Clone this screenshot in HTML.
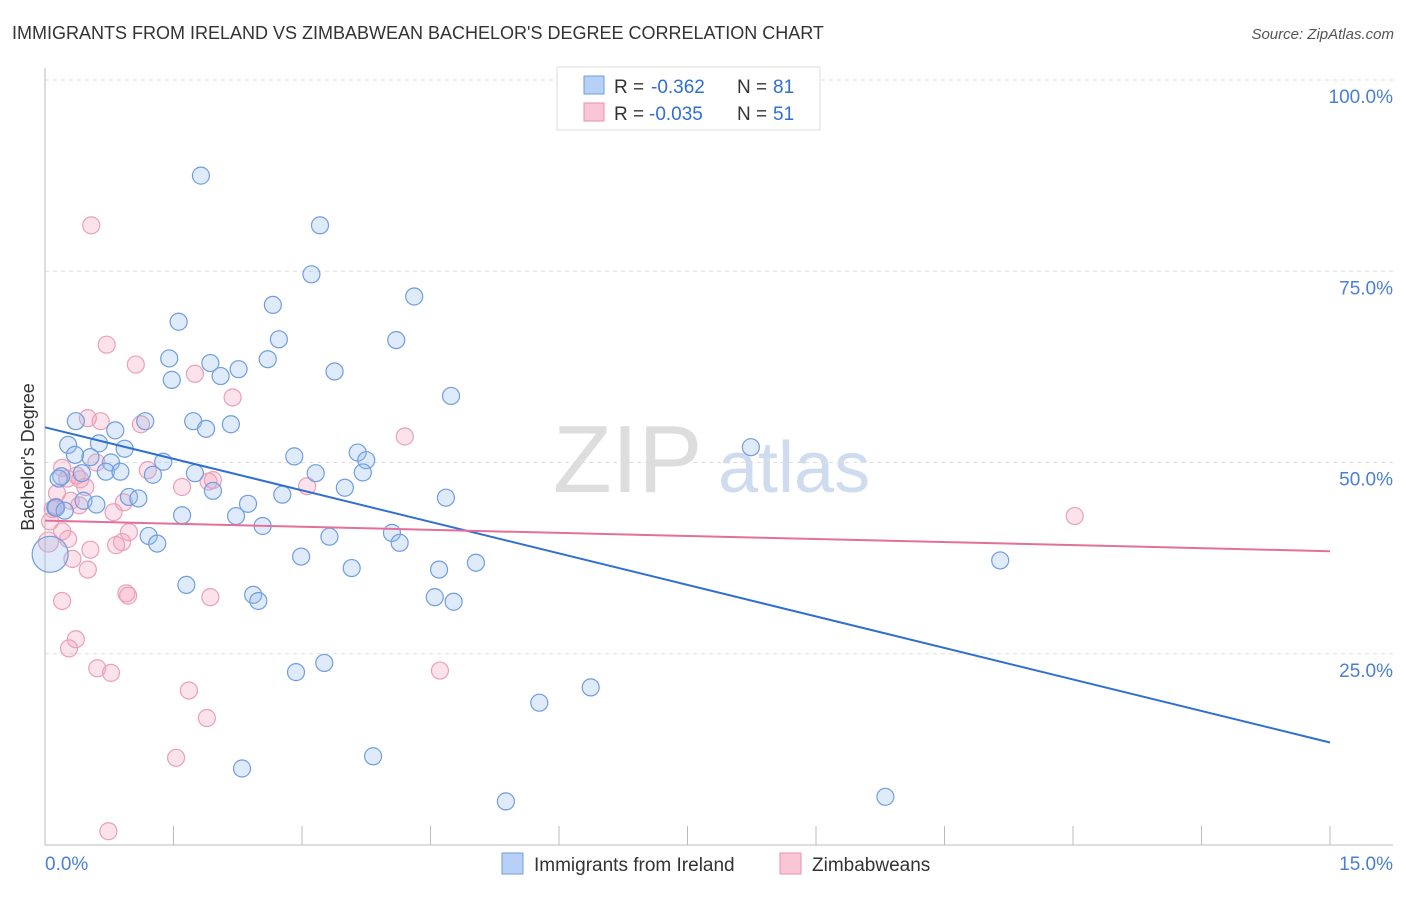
<!DOCTYPE html>
<html><head><meta charset="utf-8"><style>
body{margin:0;background:#fff;font-family:"Liberation Sans",sans-serif;}
svg text{font-family:"Liberation Sans",sans-serif;}
</style></head><body>
<svg width="1406" height="892" xmlns="http://www.w3.org/2000/svg">
<text x="12" y="39" font-size="18" fill="#333">IMMIGRANTS FROM IRELAND VS ZIMBABWEAN BACHELOR'S DEGREE CORRELATION CHART</text>
<text x="1394" y="39" font-size="15" fill="#555" text-anchor="end" font-style="italic">Source: ZipAtlas.com</text>
<g>
<text x="553" y="492" font-size="96" fill="#ddd" font-family="Liberation Serif">ZIP</text>
<text x="718" y="492" font-size="72" fill="#cfdcf0">atlas</text>
</g>
<g id="grid"></g>
<g id="axes"></g>
<g id="pts"></g>
<g id="lines"></g>
<text transform="translate(34,457) rotate(-90)" font-size="18" fill="#333" text-anchor="middle">Bachelor's Degree</text>
<g>
<rect x="557" y="67" width="263" height="63" fill="#fff" stroke="#ddd"/>
<rect x="584" y="76" width="20" height="18" fill="#b7d0f5" stroke="#6f9de0"/>
<rect x="584" y="103" width="20" height="18" fill="#f9c6d5" stroke="#e98fae"/>
<text x="614" y="93" font-size="19" fill="#333">R =</text>
<text x="651" y="93" font-size="19" fill="#2f6fd1">-0.362</text>
<text x="737" y="93" font-size="19" fill="#333">N =</text>
<text x="773" y="93" font-size="19" fill="#2f6fd1">81</text>
<text x="614" y="120" font-size="19" fill="#333">R =</text>
<text x="649" y="120" font-size="19" fill="#2f6fd1">-0.035</text>
<text x="737" y="120" font-size="19" fill="#333">N =</text>
<text x="773" y="120" font-size="19" fill="#2f6fd1">51</text>
</g>
<g>
<rect x="502" y="853" width="21" height="21" fill="#b7d0f5" stroke="#6f9de0"/>
<text x="534" y="871" font-size="19" fill="#333">Immigrants from Ireland</text>
<rect x="780" y="853" width="21" height="21" fill="#f9c6d5" stroke="#e98fae"/>
<text x="812" y="871" font-size="19" fill="#333">Zimbabweans</text>
</g>
</svg>
<script>
const yTicks=[25,50,75,100];
const yTickLabels=["25.0%","50.0%","75.0%","100.0%"];
const xTickLabels=["0.0%","15.0%"];
const irelandX=[1.82,3.21,3.11,4.31,2.66,1.56,2.73,4.10,1.45,1.93,2.60,3.38,1.48,2.05,2.26,4.74,0.36,1.17,1.73,2.17,1.88,0.82,0.27,0.63,0.93,8.24,3.65,2.91,0.53,0.77,1.38,3.75,0.43,0.71,0.88,1.26,1.75,3.16,3.71,0.19,3.50,1.96,2.77,4.68,0.98,1.09,0.12,2.37,0.13,1.60,2.23,2.54,1.21,1.31,3.32,4.05,4.14,2.99,5.03,3.58,4.60,11.15,1.65,2.43,2.49,4.55,4.77,2.93,3.26,6.37,5.77,3.83,2.30,5.38,9.81,0.06,0.16,0.23,0.35,0.45,0.60];
const irelandY=[87.5,81.0,74.6,71.7,70.6,68.4,66.1,66.0,63.6,63.0,63.5,61.9,60.8,61.3,62.2,58.7,55.4,55.4,55.4,55.0,54.4,54.2,52.3,52.5,51.8,52.0,51.3,50.8,50.7,50.0,50.1,50.3,48.6,48.8,48.8,48.4,48.6,48.6,48.7,48.2,46.7,46.3,45.8,45.4,45.5,45.3,44.1,44.6,44.1,43.1,43.0,41.7,40.4,39.4,40.3,40.8,39.5,37.7,36.9,36.2,36.0,37.2,34.0,32.7,31.9,32.4,31.8,22.6,23.8,20.6,18.6,11.6,10.0,5.7,6.3,38.0,47.9,43.7,51.0,45.0,44.5];
const irelandR=irelandX.map(()=>8.5); irelandR[75]=18;
const zimX=[0.54,0.72,1.06,1.75,2.19,0.50,0.65,1.12,4.20,0.20,1.20,0.37,0.26,0.41,0.47,0.14,1.60,3.06,1.96,1.91,0.13,0.92,0.40,0.09,0.06,0.27,0.90,0.83,0.53,0.98,0.32,12.02,0.95,0.97,1.93,0.20,0.36,0.28,0.61,0.77,4.61,1.68,1.89,1.53,0.74,0.04,0.30,0.20,0.50,0.60,0.80];
const zimY=[81.0,65.4,62.8,61.6,58.5,55.8,55.4,55.0,53.4,49.3,49.0,48.3,47.9,47.8,46.8,46.0,46.8,46.9,47.7,47.5,44.2,44.8,44.4,43.9,42.3,40.0,39.6,39.2,38.6,40.9,37.4,43.0,32.9,32.6,32.4,31.9,26.9,25.7,23.1,22.5,22.8,20.2,16.6,11.4,1.8,39.6,45.0,41.0,36.0,50.0,43.5];
const zimR=zimX.map(()=>8.5); zimR[45]=10;
const trendIreland=[54.6,13.4];
const trendZim=[42.4,38.4];
const xMax=15;
const X=v=>45+v/xMax*(1330-45);
const Y=v=>845-v/100*(845-80);
const NS="http://www.w3.org/2000/svg";
function mk(tag,attrs,parent){const e=document.createElementNS(NS,tag);for(const k in attrs)e.setAttribute(k,attrs[k]);parent.appendChild(e);return e;}
const grid=document.getElementById('grid');
yTicks.forEach((t,i)=>{
 const l=mk('line',{x1:45,x2:1393,y1:Y(t),y2:Y(t),stroke:'#ddd','stroke-dasharray':'4,4'},grid);
 
 
 const tx=mk('text',{x:1393,y:Y(t)+23,'font-size':19,fill:'#4a7fd4','text-anchor':'end'},grid);
 tx.textContent=yTickLabels[i];
 
 
});
const axes=document.getElementById('axes');
mk('line',{x1:45,x2:45,y1:68,y2:845,stroke:'#bbb'},axes);
mk('line',{x1:45,x2:1393,y1:845,y2:845,stroke:'#bbb'},axes);
for(let i=0;i<=10;i++){
 const t=mk('line',{x1:X(i*1.5),x2:X(i*1.5),y1:826,y2:845,stroke:'#bbb'},axes);
 
 
}
[[0,'start',45],[1,'end',1393]].forEach(([i,a,x])=>{
 const tx=mk('text',{x:x,y:870,'font-size':19,fill:'#4a7fd4','text-anchor':a},axes);
 tx.textContent=xTickLabels[i];
 
 
});
const pts=document.getElementById('pts');
zimX.forEach((x,i)=>{
 const c=mk('circle',{cx:X(x),cy:Y(zimY[i]),r:zimR[i],fill:'rgba(244,160,187,0.3)',stroke:'#eaa0b8','stroke-width':1.2},pts);
 
 
});
irelandX.forEach((x,i)=>{
 const c=mk('circle',{cx:X(x),cy:Y(irelandY[i]),r:irelandR[i],fill:'rgba(150,188,240,0.3)',stroke:'#6f9de0','stroke-width':1.2},pts);
 
 
});
const lines=document.getElementById('lines');
const l1=mk('line',{x1:X(0),x2:X(xMax),y1:Y(trendIreland[0]),y2:Y(trendIreland[1]),stroke:'#2f6fd1','stroke-width':2},lines);


const l2=mk('line',{x1:X(0),x2:X(xMax),y1:Y(trendZim[0]),y2:Y(trendZim[1]),stroke:'#e2709a','stroke-width':2},lines);


</script>
</body></html>
